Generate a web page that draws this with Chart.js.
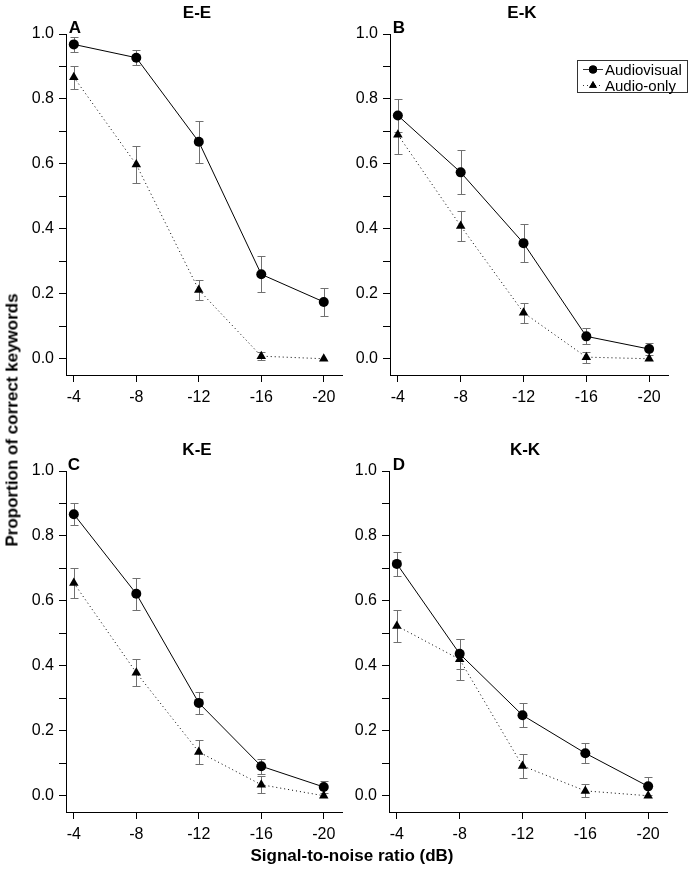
<!DOCTYPE html>
<html>
<head>
<meta charset="utf-8">
<script src="https://cdn.jsdelivr.net/npm/chart.js@4/dist/chart.umd.min.js"></script>
<style>
  body { margin: 0; background: #fff; }
  #page { position: relative; width: 696px; height: 875px; overflow: hidden; font-family: "Liberation Sans", Arial, sans-serif; }
  #page canvas { position: absolute; }
  .lbl { position: absolute; font-weight: bold; font-size: 17px; line-height: 1; transform: translate(-50%, -50%); white-space: nowrap; color: #000; }
</style>
</head>
<body>
<div id="page"></div>

<script>
// ===== DATA =====
const snrTicks = [-4, -8, -12, -16, -20];
const yTicks = [0, 0.1, 0.2, 0.3, 0.4, 0.5, 0.6, 0.7, 0.8, 0.9, 1.0];
const panelTitles = ['E-E', 'E-K', 'K-E', 'K-K'];
const panelLetters = ['A', 'B', 'C', 'D'];
const seriesNames = ['Audiovisual', 'Audio-only'];

// E-E
const avEE = [0.968, 0.927, 0.668, 0.260, 0.175];
const avEEErr = [0.022, 0.023, 0.065, 0.055, 0.044];
const aoEE = [0.867, 0.598, 0.212, 0.008, 0.0];
const aoEEErr = [0.035, 0.057, 0.032, 0.012, 0];
// E-K
const avEK = [0.749, 0.574, 0.356, 0.069, 0.030];
const avEKErr = [0.050, 0.068, 0.059, 0.025, 0.017];
const aoEK = [0.690, 0.409, 0.142, 0.005, 0.0];
const aoEKErr = [0.060, 0.046, 0.031, 0.017, 0];
// K-E
const avKE = [0.867, 0.622, 0.286, 0.091, 0.027];
const avKEErr = [0.033, 0.050, 0.035, 0.023, 0.017];
const aoKE = [0.655, 0.379, 0.135, 0.034, 0.0];
const aoKEErr = [0.046, 0.042, 0.038, 0.026, 0];
// K-K
const avKK = [0.714, 0.437, 0.248, 0.131, 0.029];
const avKKErr = [0.036, 0.047, 0.037, 0.031, 0.028];
const aoKK = [0.523, 0.420, 0.092, 0.015, 0.0];
const aoKKErr = [0.050, 0.063, 0.036, 0.020, 0];

// ===== LAYOUT =====
const panels = [
  { left: 0,   top: 0,   height: 420, padTop: 34, yWidth: 66, xHeight: 45, padRight: 4,  av: avEE, avErr: avEEErr, ao: aoEE, aoErr: aoEEErr, tx: 197, ty: 12,  lx: 75,  ly: 27 },
  { left: 348, top: 0,   height: 420, padTop: 34, yWidth: 42, xHeight: 45, padRight: 28, av: avEK, avErr: avEKErr, ao: aoEK, aoErr: aoEKErr, tx: 522, ty: 12,  lx: 399, ly: 27, legend: true },
  { left: 0,   top: 420, height: 430, padTop: 51, yWidth: 66, xHeight: 38, padRight: 4,  av: avKE, avErr: avKEErr, ao: aoKE, aoErr: aoKEErr, tx: 197, ty: 449, lx: 74,  ly: 464 },
  { left: 348, top: 420, height: 430, padTop: 51, yWidth: 41, xHeight: 38, padRight: 29, av: avKK, avErr: avKKErr, ao: aoKK, aoErr: aoKKErr, tx: 525, ty: 449, lx: 399, ly: 464 }
];

Chart.defaults.font.family = '"Liberation Sans", Arial, sans-serif';
Chart.defaults.color = '#000';

// ===== ERROR BARS =====
const errorBars = {
  id: 'errorBars',
  beforeDatasetsDraw(chart) {
    const ctx = chart.ctx;
    const xs = chart.scales.x, ys = chart.scales.y;
    ctx.save();
    ctx.strokeStyle = '#707070';
    ctx.lineWidth = 1;
    chart.data.datasets.forEach(ds => {
      ds.errors.forEach((e, i) => {
        if (!e) return;
        const p = ds.data[i];
        const px = Math.round(xs.getPixelForValue(p.x)) + 0.5;
        const top = Math.round(ys.getPixelForValue(p.y + e)) + 0.5;
        const bot = Math.round(ys.getPixelForValue(p.y - e)) + 0.5;
        ctx.beginPath();
        ctx.moveTo(px, top); ctx.lineTo(px, bot);
        ctx.moveTo(px - 4, top); ctx.lineTo(px + 4, top);
        ctx.moveTo(px - 4, bot); ctx.lineTo(px + 4, bot);
        ctx.stroke();
      });
    });
    ctx.restore();
  }
};

// ===== LEGEND (panel B) =====
const boxLegend = {
  id: 'boxLegend',
  afterDraw(chart, args, opts) {
    if (!opts.show) return;
    const ctx = chart.ctx;
    ctx.save();
    ctx.strokeStyle = '#333';
    ctx.lineWidth = 1;
    ctx.strokeRect(229.5, 60.5, 110, 32);
    ctx.font = '15px "Liberation Sans", Arial, sans-serif';
    ctx.textBaseline = 'middle';
    ctx.fillStyle = '#000';
    const rows = [69, 85];
    chart.data.datasets.forEach((ds, i) => {
      const y = rows[i] + 0.5;
      ctx.beginPath();
      ctx.setLineDash(ds.borderDash || []);
      ctx.moveTo(235, y); ctx.lineTo(255, y);
      ctx.stroke();
      ctx.setLineDash([]);
      Chart.helpers.drawPoint(ctx, { pointStyle: ds.pointStyle, radius: ds.pointRadius - 1, borderWidth: 0 }, 245, y);
      ctx.fillStyle = '#000';
      ctx.fill();
      ctx.fillText(ds.label, 257, rows[i] + 2);
    });
    ctx.restore();
  }
};

const page = document.getElementById('page');

function addLabel(text, x, y, rotate) {
  const d = document.createElement('div');
  d.className = 'lbl';
  d.textContent = text;
  d.style.left = x + 'px';
  d.style.top = y + 'px';
  if (rotate) d.style.transform = 'translate(-50%, -50%) rotate(' + rotate + 'deg)';
  page.appendChild(d);
}

// ===== PANELS =====
panels.forEach((p, k) => {
  const cv = document.createElement('canvas');
  cv.width = 348;
  cv.height = p.height;
  cv.style.left = p.left + 'px';
  cv.style.top = p.top + 'px';
  page.appendChild(cv);

  new Chart(cv, {
    type: 'line',
    data: {
      datasets: [
        {
          label: seriesNames[0],
          data: snrTicks.map((x, i) => ({ x: x, y: p.av[i] })),
          errors: p.avErr,
          borderColor: '#000',
          borderWidth: 1,
          pointStyle: 'circle',
          pointRadius: 5,
          pointBackgroundColor: '#000',
          pointBorderWidth: 0
        },
        {
          label: seriesNames[1],
          data: snrTicks.map((x, i) => ({ x: x, y: p.ao[i] })),
          errors: p.aoErr,
          borderColor: '#000',
          borderWidth: 1,
          borderDash: [1, 3],
          pointStyle: 'triangle',
          pointRadius: 5.5,
          pointBackgroundColor: '#000',
          pointBorderWidth: 0
        }
      ]
    },
    options: {
      responsive: false,
      animation: false,
      events: [],
      layout: { padding: { top: p.padTop, right: p.padRight, bottom: 0, left: 0 } },
      plugins: {
        legend: { display: false },
        tooltip: { enabled: false },
        boxLegend: { show: !!p.legend }
      },
      scales: {
        x: {
          type: 'linear',
          reverse: true,
          min: -21.2,
          max: -3.5,
          afterBuildTicks: s => { s.ticks = snrTicks.map(v => ({ value: v })); },
          afterFit: s => { s.height = p.xHeight; },
          ticks: { font: { size: 16 }, padding: 6, maxRotation: 0, autoSkip: false, callback: v => String(v) },
          grid: { drawOnChartArea: false, color: '#000', tickLength: 7 },
          border: { color: '#000', width: 1 }
        },
        y: {
          min: -0.05,
          max: 1.0,
          afterBuildTicks: s => { s.ticks = yTicks.map(v => ({ value: v })); },
          afterFit: s => { s.width = p.yWidth; },
          ticks: {
            font: { size: 16 },
            padding: 5,
            autoSkip: false,
            callback: v => (Math.round(v * 10) % 2 === 0 ? v.toFixed(1) : '')
          },
          grid: { drawOnChartArea: false, color: '#000', tickLength: 7 },
          border: { color: '#000', width: 1 }
        }
      }
    },
    plugins: [errorBars, boxLegend]
  });

  addLabel(panelTitles[k], p.tx, p.ty);
  addLabel(panelLetters[k], p.lx, p.ly);
});

addLabel('Proportion of correct keywords', 12, 420, -90);
addLabel('Signal-to-noise ratio (dB)', 352, 855);
</script>
</body>
</html>
